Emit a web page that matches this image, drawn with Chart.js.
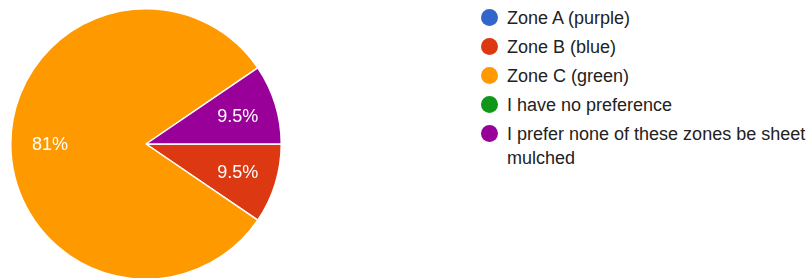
<!DOCTYPE html>
<html>
<head>
<meta charset="utf-8">
<script src="https://cdn.jsdelivr.net/npm/chart.js@4.4.0/dist/chart.umd.min.js"></script>
<style>
  html, body { margin:0; padding:0; background:#fff; overflow:hidden; }
  body { width:810px; height:278px; position:relative; font-family:Arial, "Liberation Sans", sans-serif; }
  #pieBox { position:absolute; left:0; top:0; width:292px; height:288px; }
  #legend { position:absolute; left:480px; top:6px; width:330px; color:#222; font-size:18px; }
  .item { position:relative; padding-left:27px; line-height:24px; margin-bottom:5px; }
  .dot { position:absolute; left:1px; top:3px; width:17px; height:17px; border-radius:50%; }
</style>
</head>
<body>
<div id="pieBox"><canvas id="pieChart"></canvas></div>
<div id="legend"></div>
<script>
// =========================
// Data
// =========================
const labels = ["Zone A (purple)", "Zone B (blue)", "Zone C (green)", "I have no preference", "I prefer none of these zones be sheet mulched"];
const counts = [0, 2, 17, 0, 2];
const colors = ["#3366cc", "#dc3912", "#ff9900", "#109618", "#990099"];

// percent labels inside the slices
const sliceLabels = {
    id: "sliceLabels",
    afterDatasetsDraw(chart) {
        const ctx = chart.ctx;
        const meta = chart.getDatasetMeta(0);
        const total = counts.reduce((a, b) => a + b, 0);
        ctx.save();
        ctx.fillStyle = "#fff";
        ctx.font = "18px Arial, 'Liberation Sans', sans-serif";
        ctx.textAlign = "center";
        ctx.textBaseline = "middle";
        meta.data.forEach((arc, i) => {
            if (!counts[i]) return;
            const mid = (arc.startAngle + arc.endAngle) / 2;
            const r = arc.outerRadius * 0.71;
            const pct = Math.round(counts[i] / total * 1000) / 10;
            const txt = (pct % 1 === 0 ? pct.toFixed(0) : pct.toFixed(1)) + "%";
            ctx.fillText(txt, arc.x + Math.cos(mid) * r, arc.y + Math.sin(mid) * r + 1);
        });
        ctx.restore();
    }
};

const pieChart = new Chart(document.getElementById("pieChart"), {
    type: "pie",
    data: {
        labels: labels,
        datasets: [{
            data: counts,
            backgroundColor: colors,
            borderColor: "#fff",
            borderWidth: 1.5
        }]
    },
    options: {
        responsive: true,
        maintainAspectRatio: false,
        animation: false,
        rotation: 90,
        layout: { padding: { left: 10, right: 10, top: 8, bottom: 8 } },
        plugins: {
            legend: { display: false },
            tooltip: { enabled: false }
        }
    },
    plugins: [sliceLabels]
});

// legend
const legend = document.getElementById("legend");
labels.forEach((name, i) => {
    const row = document.createElement("div");
    row.className = "item";
    row.innerHTML = '<span class="dot" style="background:' + colors[i] + '"></span>' + name;
    legend.appendChild(row);
});
</script>
</body>
</html>
